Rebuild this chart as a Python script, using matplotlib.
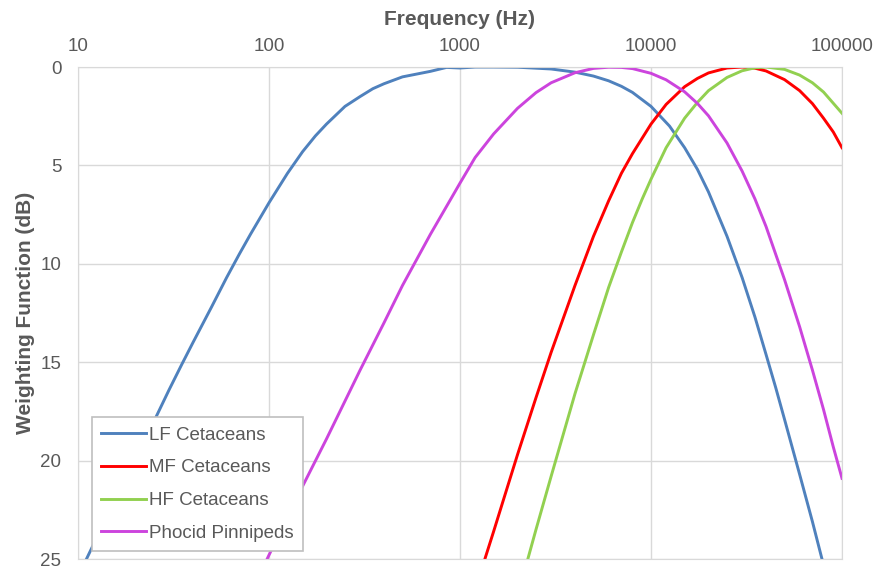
import matplotlib
matplotlib.use("Agg")
import matplotlib.pyplot as plt

plt.rcParams["font.family"] = ["Liberation Sans", "DejaVu Sans"]

# values (attenuation in dB)
lf_freq = [10, 12, 15, 20, 25, 30, 35, 40, 50, 60, 70, 80, 100, 125, 150, 175, 200, 250, 300,
           350, 400, 500, 700, 850, 1000, 1200, 1500, 2000, 3000, 4000, 5000, 6000, 7000, 8000,
           10000, 12500, 15000, 17500, 20000, 25000, 30000, 35000, 40000, 45000, 50000, 60000,
           70000, 80000, 100000]
lf_db = [25.9, 24.3, 22.4, 19.9, 18.0, 16.4, 15.1, 14.0, 12.2, 10.7, 9.5, 8.5, 6.9, 5.4, 4.3,
         3.5, 2.9, 2.0, 1.5, 1.1, 0.85, 0.5, 0.22, 0.02, 0.05, 0.0, 0.0, 0.01, 0.1, 0.26, 0.46,
         0.7, 0.98, 1.29, 2.0, 3.0, 4.1, 5.2, 6.35, 8.6, 10.7, 12.7, 14.6, 16.3, 17.9, 20.7,
         23.1, 25.3, 29.0]

mf_freq = [1300, 1500, 1700, 2000, 2500, 3000, 4000, 5000, 6000, 7000, 8000, 10000, 12000,
           15000, 17500, 20000, 25000, 30000, 35000, 40000, 50000, 60000, 70000, 80000, 90000,
           100000]
mf_db = [25.5, 23.6, 21.9, 19.7, 16.8, 14.5, 11.1, 8.6, 6.8, 5.4, 4.4, 2.9, 1.9, 1.0, 0.58,
         0.3, 0.05, 0.0, 0.06, 0.2, 0.64, 1.2, 1.86, 2.6, 3.3, 4.1]

hf_freq = [2000, 2500, 3000, 4000, 5000, 6000, 7000, 8000, 9000, 10000, 12000, 15000, 17500,
           20000, 25000, 30000, 35000, 40000, 50000, 60000, 70000, 80000, 100000]
hf_db = [26.9, 23.5, 20.8, 16.6, 13.6, 11.2, 9.4, 7.9, 6.7, 5.7, 4.1, 2.6, 1.8, 1.2, 0.53,
         0.19, 0.04, 0.0, 0.12, 0.41, 0.8, 1.27, 2.35]

pw_freq = [80, 100, 150, 200, 300, 400, 500, 700, 1000, 1200, 1500, 2000, 2500, 3000, 4000,
           5000, 6000, 7000, 8000, 10000, 12000, 15000, 17500, 20000, 25000, 30000, 35000,
           40000, 50000, 60000, 70000, 80000, 90000, 100000]
pw_db = [26.8, 24.8, 21.3, 18.9, 15.4, 13.0, 11.1, 8.5, 5.9, 4.6, 3.4, 2.1, 1.3, 0.8, 0.29,
         0.07, 0.01, 0.02, 0.08, 0.32, 0.65, 1.26, 1.85, 2.48, 3.86, 5.29, 6.7, 8.1, 10.8,
         13.2, 15.4, 17.4, 19.3, 20.9]

x_ticks = [10, 100, 1000, 10000, 100000]
y_ticks = [0, 5, 10, 15, 20, 25]

series = [
    ("LF Cetaceans", lf_freq, lf_db, "#4F81BD"),
    ("MF Cetaceans", mf_freq, mf_db, "#FF0000"),
    ("HF Cetaceans", hf_freq, hf_db, "#92D050"),
    ("Phocid Pinnipeds", pw_freq, pw_db, "#CC44DD"),
]

fig = plt.figure(figsize=(8.74, 5.68), dpi=100)
ax = fig.add_axes([0.0892, 0.0158, 0.8742, 0.8662])

for name, f, d, c in series:
    ax.plot(f, d, color=c, lw=2.1, label=name, solid_joinstyle="round")

ax.set_xscale("log")
ax.set_xlim(10, 100000)
ax.set_ylim(25, 0)
ax.set_xticks(x_ticks)
ax.set_xticklabels([str(t) for t in x_ticks])
ax.minorticks_off()
ax.set_yticks(y_ticks)
ax.xaxis.tick_top()
ax.xaxis.set_label_position("top")
ax.tick_params(length=0, labelsize=13.5, labelcolor="#595959", pad=9)
ax.tick_params(axis="y", pad=12)
ax.grid(True, color="#D9D9D9", lw=1)
ax.set_axisbelow(True)
for s in ax.spines.values():
    s.set_color("#D9D9D9")

ax.set_xlabel("Frequency (Hz)", fontsize=15, fontweight="bold", color="#595959", labelpad=9)
ax.set_ylabel("Weighting Function (dB)", fontsize=15, fontweight="bold", color="#595959",
              labelpad=4)

leg = ax.legend(loc="lower left", bbox_to_anchor=(0.018, 0.016), borderaxespad=0,
                fontsize=13.5, handlelength=2.4, handletextpad=0.15, labelspacing=0.83,
                fancybox=False, framealpha=1, edgecolor="#BFBFBF", borderpad=0.5)
leg.get_frame().set_linewidth(1.2)
for t in leg.get_texts():
    t.set_color("#595959")

fig.savefig("out.png", dpi=100)
